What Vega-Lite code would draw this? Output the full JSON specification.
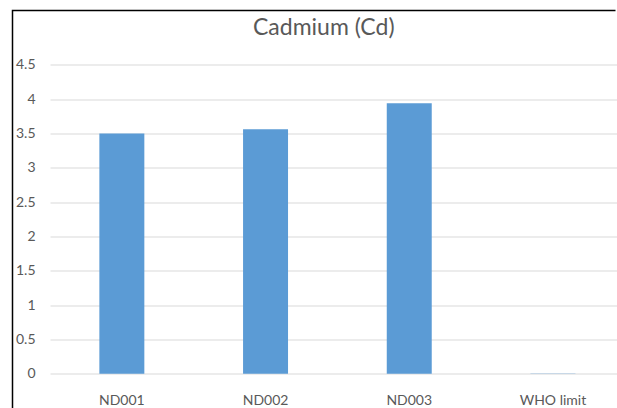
{
  "$schema": "https://vega.github.io/schema/vega-lite/v6.json",
  "width": 604.5,
  "height": 397.5,
  "autosize": {"type": "none"},
  "padding": {"left": 12.5, "top": 10.5, "right": 0, "bottom": 0},
  "background": "white",
  "config": {
    "font": "Lato",
    "view": {
      "stroke": "#000000",
      "strokeWidth": 1.5,
      "strokeDash": [603, 1003.5, 397.5, 10]
    }
  },
  "title": {
    "text": "Cadmium (Cd)",
    "orient": "top",
    "anchor": "middle",
    "baseline": "alphabetic",
    "offset": -47.5,
    "dx": 9,
    "font": "Lato",
    "fontSize": 23,
    "fontWeight": "normal",
    "color": "#595959"
  },
  "data": {
    "values": [
      {"sample": "ND001", "cd": 3.5},
      {"sample": "ND002", "cd": 3.56},
      {"sample": "ND003", "cd": 3.94},
      {"sample": "WHO limit", "cd": 0.003}
    ]
  },
  "mark": {"type": "bar", "color": "#5B9BD5"},
  "encoding": {
    "x": {
      "field": "sample",
      "type": "nominal",
      "sort": null,
      "scale": {
        "range": [37.5, 612.3],
        "paddingInner": 0.687,
        "paddingOuter": 0.3435
      },
      "axis": {
        "title": null,
        "orient": "bottom",
        "offset": -34.3,
        "labelAngle": 0,
        "labelPadding": 20,
        "labelFontSize": 14,
        "labelColor": "#595959",
        "ticks": false,
        "tickSize": 0,
        "domain": false,
        "grid": false
      }
    },
    "y": {
      "field": "cd",
      "type": "quantitative",
      "scale": {"domain": [0, 4.5], "range": [363.2, 54.3], "nice": false, "zero": true},
      "axis": {
        "title": null,
        "orient": "left",
        "offset": -37.5,
        "values": [0, 0.5, 1, 1.5, 2, 2.5, 3, 3.5, 4, 4.5],
        "format": "~g",
        "labelPadding": 15,
        "labelFontSize": 14,
        "labelColor": "#595959",
        "ticks": false,
        "tickSize": 0,
        "domain": false,
        "grid": true,
        "gridColor": "#d9d9d9",
        "gridWidth": 1
      }
    }
  }
}
